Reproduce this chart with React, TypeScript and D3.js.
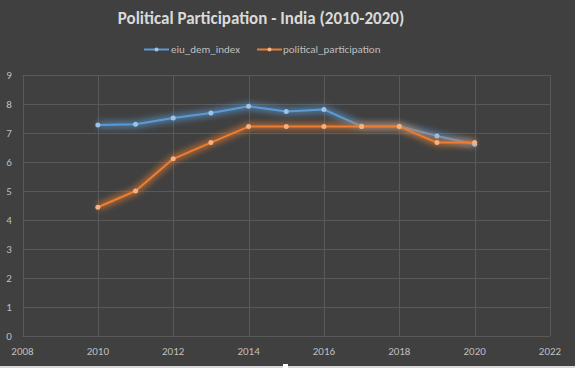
import React, { useEffect, useRef } from "react";
import * as d3 from "d3";

const years = [2010, 2011, 2012, 2013, 2014, 2015, 2016, 2017, 2018, 2019, 2020];
const eiuDemIndex = [7.28, 7.3, 7.52, 7.69, 7.92, 7.74, 7.81, 7.23, 7.23, 6.9, 6.61];
const politicalParticipation = [4.44, 5.0, 6.11, 6.67, 7.22, 7.22, 7.22, 7.22, 7.22, 6.67, 6.67];
const xTicks = [2008, 2010, 2012, 2014, 2016, 2018, 2020, 2022];
const yTicks = [0, 1, 2, 3, 4, 5, 6, 7, 8, 9];

const series = [
  { name: "eiu_dem_index", values: eiuDemIndex, color: "#5b9bd5", marker: "#9dc3e6" },
  { name: "political_participation", values: politicalParticipation, color: "#ed7d31", marker: "#f4b183" },
];

export default function App() {
  const svgRef = useRef(null);

  useEffect(() => {
    const W = 575;
    const H = 368;
    const svg = d3.select(svgRef.current);
    svg.selectAll("*").remove();

    const font = "Carlito, 'Open Sans', Lato, sans-serif";

    svg.append("rect").attr("width", W).attr("height", H).attr("fill", "#404040");

    const defs = svg.append("defs");
    series.forEach((s, i) => {
      const f = defs.append("filter").attr("id", "glow" + i)
        .attr("x", "-20%").attr("y", "-50%").attr("width", "140%").attr("height", "200%");
      f.append("feGaussianBlur").attr("in", "SourceGraphic").attr("stdDeviation", 3).attr("result", "b");
    });

    const x = d3.scaleLinear().domain([2008, 2022]).range([22.5, 550]);
    const y = d3.scaleLinear().domain([0, 9]).range([336, 75]);

    // gridlines
    const grid = svg.append("g").attr("stroke", "#595959").attr("stroke-width", 1);
    yTicks.forEach((t) => {
      grid.append("line").attr("x1", x(2008)).attr("x2", x(2022))
        .attr("y1", Math.round(y(t)) + 0.5).attr("y2", Math.round(y(t)) + 0.5);
    });
    xTicks.forEach((t) => {
      grid.append("line").attr("y1", y(0)).attr("y2", y(9))
        .attr("x1", Math.round(x(t)) + 0.5).attr("x2", Math.round(x(t)) + 0.5);
    });

    // axis labels
    svg.append("g").selectAll("text").data(yTicks).join("text")
      .attr("x", 9).attr("y", (d) => y(d)).attr("dy", "0.35em")
      .attr("text-anchor", "middle")
      .attr("fill", "#bfbfbf").attr("font-size", 11).attr("font-family", font)
      .text((d) => d);

    svg.append("g").selectAll("text").data(xTicks).join("text")
      .attr("x", (d) => x(d)).attr("y", 355)
      .attr("text-anchor", "middle")
      .attr("fill", "#bfbfbf").attr("font-size", 11).attr("font-family", font)
      .text((d) => d);

    const line = d3.line<number>().x((d, i) => x(years[i])).y((d) => y(d));

    series.forEach((s, i) => {
      const g = svg.append("g");
      g.append("path").attr("d", line(s.values)).attr("fill", "none")
        .attr("stroke", s.color).attr("stroke-width", 6).attr("stroke-opacity", 0.7)
        .attr("filter", `url(#glow${i})`);
      g.append("path").attr("d", line(s.values)).attr("fill", "none")
        .attr("stroke", s.color).attr("stroke-width", 2).attr("stroke-linejoin", "round");
      g.selectAll("circle").data(s.values).join("circle")
        .attr("cx", (d, j) => x(years[j])).attr("cy", (d) => y(d))
        .attr("r", 2.5).attr("fill", s.marker);
    });

    // title
    svg.append("text").attr("x", 261).attr("y", 24).attr("text-anchor", "middle")
      .attr("fill", "#d9d9d9").attr("font-size", 17).attr("font-weight", "bold")
      .attr("font-family", font).text("Political Participation - India (2010-2020)");

    // legend
    const legend = [
      { x0: 144, tx: 171 },
      { x0: 257, tx: 283 },
    ];
    series.forEach((s, i) => {
      const lg = svg.append("g");
      lg.append("line").attr("x1", legend[i].x0).attr("x2", legend[i].x0 + 25)
        .attr("y1", 49.5).attr("y2", 49.5).attr("stroke", s.color).attr("stroke-width", 2);
      lg.append("circle").attr("cx", legend[i].x0 + 12.5).attr("cy", 49.5).attr("r", 2).attr("fill", s.marker);
      lg.append("text").attr("x", legend[i].tx).attr("y", 49.5).attr("dy", "0.35em")
        .attr("fill", "#bfbfbf").attr("font-size", 11).attr("font-family", font).text(s.name);
    });

    // frame edge
    svg.append("rect").attr("x", 0).attr("y", 366).attr("width", W).attr("height", 2).attr("fill", "#d9d9d9");
    svg.append("rect").attr("x", 283).attr("y", 364).attr("width", 5).attr("height", 4).attr("fill", "#ffffff");
  }, []);

  return (
    <svg ref={svgRef} width={575} height={368}
      style={{ position: "absolute", left: 0, top: 0, display: "block" }} />
  );
}
